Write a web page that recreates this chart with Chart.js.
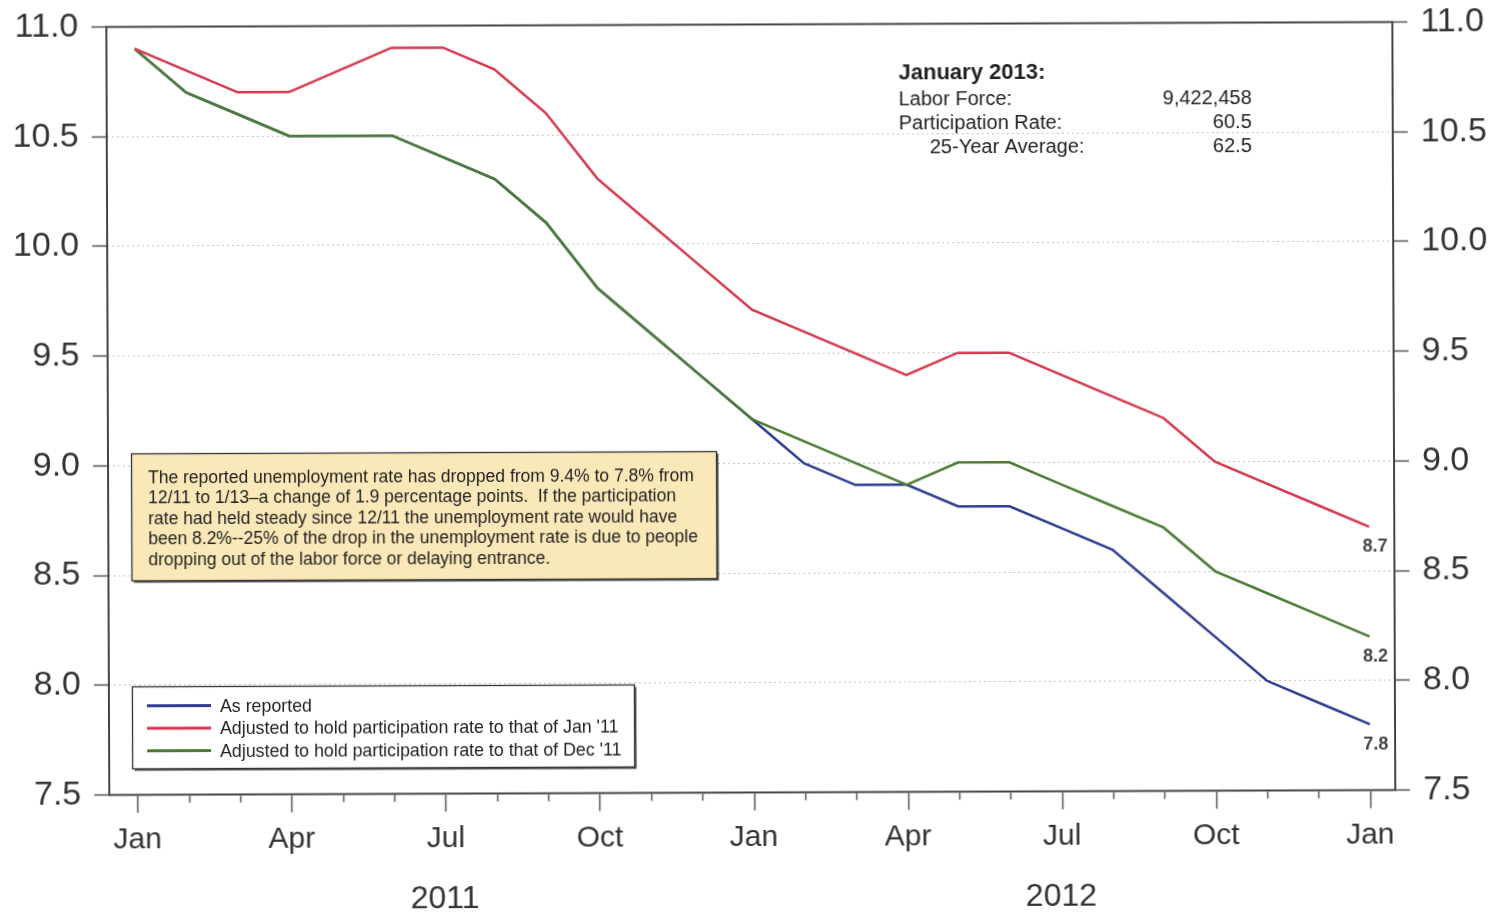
<!DOCTYPE html>
<html>
<head>
<meta charset="utf-8">
<script src="https://cdn.jsdelivr.net/npm/chart.js@4.4.1/dist/chart.umd.min.js"></script>
<style>
  html, body { margin: 0; padding: 0; background: #fff; }
  #wrap { width: 1499px; height: 914px; position: relative; overflow: hidden; background: #fff; }
  #c { position: absolute; left: 0; top: 0; transform: rotate(-0.22deg); transform-origin: 50% 50%; }
</style>
</head>
<body>
<div id="wrap"><canvas id="c" width="1499" height="914"></canvas></div>
<script>
// Monthly unemployment rate, Jan 2011 - Jan 2013 (percent)
const monthLabels = ['Jan','Feb','Mar','Apr','May','Jun','Jul','Aug','Sep','Oct','Nov','Dec',
                     'Jan','Feb','Mar','Apr','May','Jun','Jul','Aug','Sep','Oct','Nov','Dec','Jan'];
const yearLabels = ['2011', '2012'];
const yearCenters = [6, 18];

const asReported = [10.9, 10.7, 10.6, 10.5, 10.5, 10.5, 10.4, 10.3, 10.1, 9.8, 9.6, 9.4,
                    9.2, 9.0, 8.9, 8.9, 8.8, 8.8, 8.7, 8.6, 8.4, 8.2, 8.0, 7.9, 7.8];
const heldJan11  = [10.9, 10.8, 10.7, 10.7, 10.8, 10.9, 10.9, 10.8, 10.6, 10.3, 10.1, 9.9,
                    9.7, 9.6, 9.5, 9.4, 9.5, 9.5, 9.4, 9.3, 9.2, 9.0, 8.9, 8.8, 8.7];
const heldDec11  = [10.9, 10.7, 10.6, 10.5, 10.5, 10.5, 10.4, 10.3, 10.1, 9.8, 9.6, 9.4,
                    9.2, 9.1, 9.0, 8.9, 9.0, 9.0, 8.9, 8.8, 8.7, 8.5, 8.4, 8.3, 8.2];

const seriesNames = [
  'As reported',
  "Adjusted to hold participation rate to that of Jan '11",
  "Adjusted to hold participation rate to that of Dec '11"
];
const seriesColors = ['#2f3d8f', '#d6374d', '#4b7c33'];
const yTicks = [7.5, 8.0, 8.5, 9.0, 9.5, 10.0, 10.5, 11.0];

const noteLines = [
  'The reported unemployment rate has dropped from 9.4% to 7.8% from',
  '12/11 to 1/13\u2013a change of 1.9 percentage points.  If the participation',
  'rate had held steady since 12/11 the unemployment rate would have',
  'been 8.2%--25% of the drop in the unemployment rate is due to people',
  'dropping out of the labor force or delaying entrance.'
];
const infoTitle = 'January 2013:';
const infoLabels = ['Labor Force:', 'Participation Rate:', '25-Year Average:'];
const infoValues = ['9,422,458', '60.5', '62.5'];

const FONT = '"Liberation Sans", Arial, Helvetica, sans-serif';

function toPoints(arr) { return arr.map((v, i) => ({ x: i, y: v })); }

// keep axis label overhang from pushing the plot area around
function noOverhang(s) {
  s.paddingTop = 0; s.paddingBottom = 0; s.paddingLeft = 0; s.paddingRight = 0;
}

const decorations = {
  id: 'decorations',
  beforeDraw(chart) {
    const ctx = chart.ctx;
    ctx.save();
    ctx.fillStyle = '#fff';
    ctx.fillRect(0, 0, chart.width, chart.height);
    ctx.restore();
  },
  afterDatasetsDraw(chart) {
    const { ctx, chartArea: a } = chart;
    ctx.save();
    ctx.strokeStyle = '#444';
    ctx.lineWidth = 2;
    ctx.strokeRect(a.left, a.top, a.right - a.left, a.bottom - a.top);
    ctx.restore();
  },
  afterDraw(chart) {
    const { ctx, chartArea: a, scales } = chart;
    const xs = scales.x, ys = scales.y;
    ctx.save();

    // month tick marks, longer at quarter starts
    ctx.strokeStyle = '#555';
    ctx.lineWidth = 1.5;
    monthLabels.forEach((m, i) => {
      const px = Math.round(xs.getPixelForValue(i)) + 0.5;
      ctx.beginPath();
      ctx.moveTo(px, a.bottom + 1);
      ctx.lineTo(px, a.bottom + (i % 3 === 0 ? 18 : 8));
      ctx.stroke();
    });

    // year labels
    ctx.fillStyle = '#333';
    ctx.font = '32px ' + FONT;
    ctx.textAlign = 'center';
    ctx.textBaseline = 'alphabetic';
    yearLabels.forEach((y, i) => {
      ctx.fillText(y, xs.getPixelForValue(yearCenters[i]) - 1, 907);
    });

    // end values
    ctx.font = 'bold 18px ' + FONT;
    ctx.fillStyle = '#444';
    ctx.textBaseline = 'middle';
    chart.data.datasets.forEach(ds => {
      const last = ds.data[ds.data.length - 1];
      ctx.fillText(last.y.toFixed(1), xs.getPixelForValue(last.x) + 6, ys.getPixelForValue(last.y) + 20);
    });

    // note box
    const nb = { l: 131.5, t: 451.5, w: 585, h: 127 };
    ctx.fillStyle = '#555';
    ctx.fillRect(nb.l + 2, nb.t + 2, nb.w, nb.h);
    ctx.fillStyle = '#fbe8b8';
    ctx.fillRect(nb.l, nb.t, nb.w, nb.h);
    ctx.strokeStyle = '#333';
    ctx.lineWidth = 1.3;
    ctx.strokeRect(nb.l, nb.t, nb.w, nb.h);
    ctx.fillStyle = '#222';
    ctx.font = '17.5px ' + FONT;
    ctx.textAlign = 'left';
    ctx.textBaseline = 'alphabetic';
    noteLines.forEach((s, i) => ctx.fillText(s, 148, 480.5 + i * 20.5));

    // legend box
    const lb = { l: 131.5, t: 684.5, w: 502, h: 82 };
    ctx.fillStyle = '#555';
    ctx.fillRect(lb.l + 2, lb.t + 2, lb.w, lb.h);
    ctx.fillStyle = '#fff';
    ctx.fillRect(lb.l, lb.t, lb.w, lb.h);
    ctx.strokeStyle = '#333';
    ctx.lineWidth = 1.3;
    ctx.strokeRect(lb.l, lb.t, lb.w, lb.h);
    ctx.font = '17.8px ' + FONT;
    seriesNames.forEach((name, i) => {
      const base = 709.5 + i * 22.5;
      ctx.strokeStyle = seriesColors[i];
      ctx.lineWidth = 3;
      ctx.beginPath();
      ctx.moveTo(146, base - 6);
      ctx.lineTo(210, base - 6);
      ctx.stroke();
      ctx.fillStyle = '#222';
      ctx.fillText(name, 219, base);
    });

    // January 2013 summary
    ctx.fillStyle = '#222';
    ctx.font = 'bold 22px ' + FONT;
    ctx.textAlign = 'left';
    ctx.fillText(infoTitle, 900, 80);
    ctx.font = '20px ' + FONT;
    infoLabels.forEach((lab, i) => {
      const base = 105.5 + i * 24;
      ctx.textAlign = 'left';
      ctx.fillText(lab, i === 2 ? 931 : 900, base);
      ctx.textAlign = 'right';
      ctx.fillText(infoValues[i], 1253, base);
    });

    ctx.restore();
  }
};

const yTickFmt = v => Number(v).toFixed(1);

new Chart(document.getElementById('c').getContext('2d'), {
  type: 'line',
  data: {
    datasets: [
      { label: seriesNames[0], data: toPoints(asReported), borderColor: seriesColors[0], order: 2 },
      { label: seriesNames[1], data: toPoints(heldJan11), borderColor: seriesColors[1], order: 0 },
      { label: seriesNames[2], data: toPoints(heldDec11), borderColor: seriesColors[2], order: 1 }
    ]
  },
  options: {
    responsive: false,
    animation: false,
    devicePixelRatio: 1,
    layout: { padding: { top: 24.5, left: 0, right: 0, bottom: 0 } },
    elements: {
      point: { radius: 0, hoverRadius: 0 },
      line: { borderWidth: 2.5, tension: 0, fill: false }
    },
    plugins: { legend: { display: false }, tooltip: { enabled: false } },
    scales: {
      x: {
        type: 'linear', min: -0.55, max: 24.49,
        afterBuildTicks: s => { s.ticks = monthLabels.map((_, i) => ({ value: i })); },
        afterFit: s => { s.height = 121.5; noOverhang(s); },
        grid: { display: true, drawOnChartArea: false, drawTicks: true, tickLength: 17, tickColor: 'rgba(0,0,0,0)' },
        border: { display: false },
        ticks: {
          autoSkip: false, maxRotation: 0, minRotation: 0, padding: 10, color: '#333',
          font: { family: FONT, size: 30 },
          callback: (v, i) => (i % 3 === 0 ? monthLabels[i] : '')
        }
      },
      y: {
        position: 'left', min: 7.5, max: 11,
        afterBuildTicks: s => { s.ticks = yTicks.map(v => ({ value: v })); },
        afterFit: s => { s.width = 108; noOverhang(s); },
        grid: { color: '#c2c2c2', lineWidth: 1, tickColor: '#555', tickWidth: 1.5, tickLength: 15, tickBorderDash: [] },
        border: { display: false, dash: [2, 3] },
        ticks: { padding: 13, color: '#333', font: { family: FONT, size: 34 }, callback: yTickFmt }
      },
      y2: {
        position: 'right', min: 7.5, max: 11,
        afterBuildTicks: s => { s.ticks = yTicks.map(v => ({ value: v })); },
        afterFit: s => { s.width = 105; noOverhang(s); },
        grid: { drawOnChartArea: false, tickColor: '#555', tickWidth: 1.5, tickLength: 15 },
        border: { display: false },
        ticks: { padding: 13, color: '#333', font: { family: FONT, size: 34 }, callback: yTickFmt }
      }
    }
  },
  plugins: [decorations]
});
</script>
</body>
</html>
